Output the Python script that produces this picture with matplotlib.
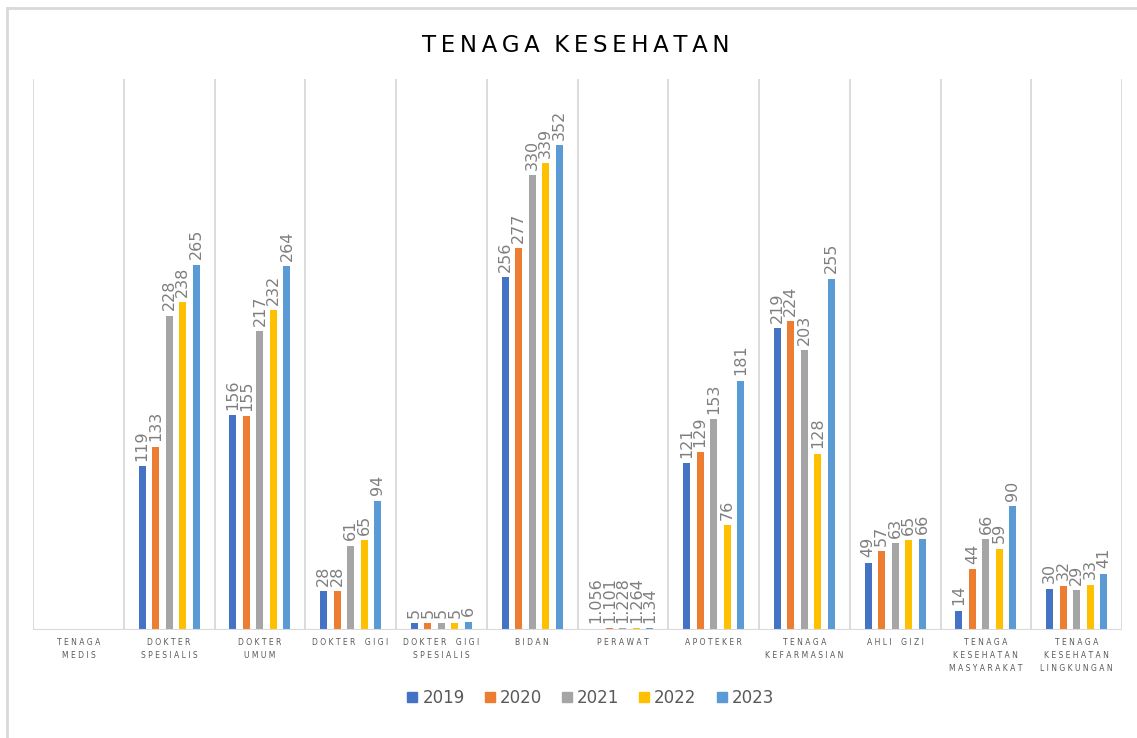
import numpy as np
import matplotlib
matplotlib.use("Agg")
import matplotlib.pyplot as plt
from matplotlib.lines import Line2D

categories = ["TENAGA\nMEDIS", "DOKTER\nSPESIALIS", "DOKTER\nUMUM", "DOKTER GIGI",
              "DOKTER GIGI\nSPESIALIS", "BIDAN", "PERAWAT", "APOTEKER",
              "TENAGA\nKEFARMASIAN", "AHLI GIZI", "TENAGA\nKESEHATAN\nMASYARAKAT",
              "TENAGA\nKESEHATAN\nLINGKUNGAN"]
years = ["2019", "2020", "2021", "2022", "2023"]
v2019 = [np.nan, 119, 156, 28, 5, 256, 1.056, 121, 219, 49, 14, 30]
v2020 = [np.nan, 133, 155, 28, 5, 277, 1.101, 129, 224, 57, 44, 32]
v2021 = [np.nan, 228, 217, 61, 5, 330, 1.228, 153, 203, 63, 66, 29]
v2022 = [np.nan, 238, 232, 65, 5, 339, 1.264, 76, 128, 65, 59, 33]
v2023 = [np.nan, 265, 264, 94, 6, 352, 1.34, 181, 255, 66, 90, 41]
series = [v2019, v2020, v2021, v2022, v2023]
colors = ["#4472C4", "#ED7D31", "#A5A5A5", "#FFC000", "#5B9BD5"]

W, H = 1137, 738
fig = plt.figure(figsize=(W / 100, H / 100), dpi=100)
ax = fig.add_axes([33 / W, 1 - 630 / H, (1122 - 33) / W, (630 - 79) / H])

def spaced(s):
    lines = []
    for line in s.split("\n"):
        words = [" ".join(list(w)) for w in line.split(" ")]
        lines.append("    ".join(words))
    return "\n".join(lines)

n = len(categories)
x = np.arange(n)
step = 0.149
bw = 0.078
for i, (vals, c) in enumerate(zip(series, colors)):
    pos = x + (i - 2) * step
    ax.bar(pos, vals, width=bw, color=c, zorder=3)
    for p, v in zip(pos, vals):
        if np.isnan(v):
            continue
        lab = str(int(v)) if float(v).is_integer() else str(v)
        ax.text(p, v + 4, lab, rotation=90, ha="center", va="bottom",
                fontsize=11.5, color="#7F7F7F", fontfamily="DejaVu Sans")

ax.set_xlim(-0.5, n - 0.5)
ax.set_ylim(0, 400)
for b in np.arange(-0.5, n, 1.0):
    ax.axvline(b, color="#D9D9D9", lw=1.3, zorder=1)
for s in ax.spines.values():
    s.set_visible(False)
ax.axhline(0, color="#D9D9D9", lw=1.5, zorder=4)
ax.set_yticks([])
ax.set_xticks(x)
ax.set_xticklabels([spaced(c) for c in categories], fontsize=5.5, color="#595959",
                   linespacing=1.55)
ax.tick_params(axis="x", length=0, pad=6)

title = "TENAGA KESEHATAN"
title_sp = "\u2009".join(list(title)).replace("\u2009 \u2009", "  ")
fig.text(576 / W, 1 - 45 / H, title_sp, ha="center", va="center",
         fontsize=16.5, color="#000000", fontfamily="DejaVu Sans")

handles = [Line2D([], [], marker="s", linestyle="none", markersize=7.5, color=c) for c in colors]
fig.legend(handles, years, loc="center", bbox_to_anchor=(0.518, 1 - 698 / H), ncol=5,
           frameon=False, fontsize=12, labelcolor="#595959", handletextpad=0.1,
           columnspacing=1.0, handlelength=1.0)

# outer chart border (top and left visible)
fig.add_artist(Line2D([7 / W, 7 / W], [0, 1 - 8 / H], color="#D9D9D9", lw=2, transform=fig.transFigure))
fig.add_artist(Line2D([7 / W, 1], [1 - 8 / H, 1 - 8 / H], color="#D9D9D9", lw=2, transform=fig.transFigure))

fig.savefig("out.png", dpi=100)
